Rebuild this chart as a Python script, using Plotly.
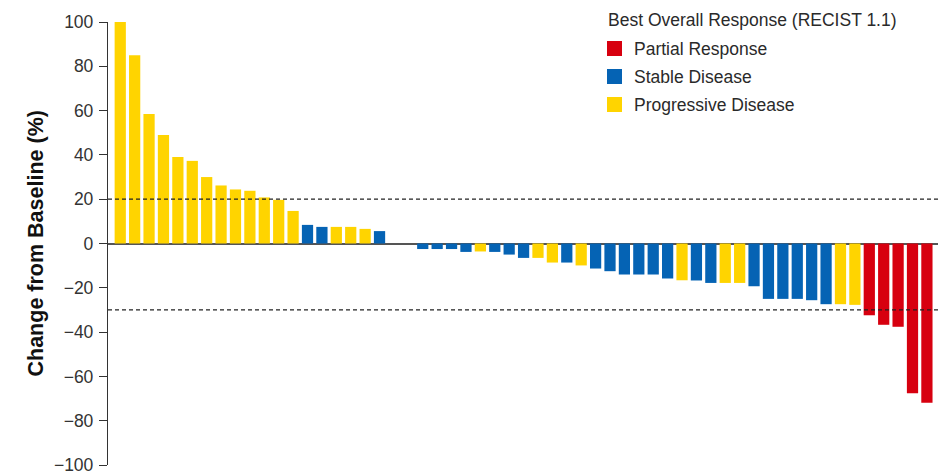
import plotly.graph_objects as go

# Best percent change in target-lesion size per patient, sorted high to low
change_pct = [
    100, 85, 58.5, 49, 39, 37.3, 30, 26.2, 24.4, 23.8, 20.8, 19.7, 14.7,
    8.4, 7.5, 7.5, 7.5, 6.6, 5.6,
    0, 0,
    -2.5, -2.5, -2.5, -3.8, -3.6, -3.8, -5, -6.5, -6.5, -8.6, -8.6, -9.9,
    -11.3, -12.5, -14, -14, -14, -15.8, -16.6, -16.7, -17.8, -17.8, -17.8,
    -19.3, -25, -25, -25, -25.6, -27.4, -27.4, -27.7,
    -32.4, -36.7, -37.6, -67.6, -71.9,
]
response = (
    ["PD"] * 13
    + ["SD", "SD", "PD", "PD", "PD", "SD"]
    + ["SD", "SD"]
    + ["SD", "SD", "SD", "SD", "PD", "SD", "SD", "SD", "PD", "PD", "SD", "PD"]
    + ["SD", "SD", "SD", "SD", "SD", "SD", "PD", "SD", "SD", "PD", "PD"]
    + ["SD", "SD", "SD", "SD", "SD", "SD", "PD", "PD"]
    + ["PR"] * 5
)
categories = ["PR", "SD", "PD"]
category_names = {"PR": "Partial Response", "SD": "Stable Disease", "PD": "Progressive Disease"}
category_colors = {"PR": "#D7000F", "SD": "#0563B4", "PD": "#FFD400"}
legend_title = "Best Overall Response (RECIST 1.1)"
y_title = "Change from Baseline (%)"
y_ticks = [100, 80, 60, 40, 20, 0, -20, -40, -60, -80, -100]
threshold_lines = [20, -30]

W, H = 938, 474
M_L, M_R, M_T, M_B = 108, 0, 22, 9
PLOT_W, PLOT_H = W - M_L - M_R, H - M_T - M_B


def px_x(px):
    """Pixel column -> paper x."""
    return (px - M_L) / PLOT_W


def px_y(py):
    """Pixel row (from top) -> paper y."""
    return 1 - (py - M_T) / PLOT_H


patients = list(range(len(change_pct)))
font_family = "Liberation Sans, Arial, Helvetica, sans-serif"

fig = go.Figure()
for cat in categories:
    xs = [p for p, r in zip(patients, response) if r == cat]
    ys = [v for v, r in zip(change_pct, response) if r == cat]
    fig.add_trace(go.Bar(
        x=xs, y=ys, name=category_names[cat], showlegend=False,
        marker=dict(color=category_colors[cat], line=dict(width=0)),
    ))

for yv in threshold_lines:
    fig.add_shape(type="line", xref="paper", x0=0, x1=1, y0=yv, y1=yv,
                  line=dict(color="#222222", width=1.3, dash="4px,3px"),
                  layer="above")

# Vertical axis title, placed left of the tick labels
fig.add_annotation(text="<b>" + y_title + "</b>", xref="paper", yref="paper",
                   x=px_x(35), y=0.5, xanchor="center", yanchor="middle",
                   textangle=-90, showarrow=False,
                   font=dict(size=21.5, color="#111111"))

# Key: title plus a coloured square and label per response category
LEG_X, LEG_TITLE_Y, LEG_ROW0_Y, LEG_ROW_STEP, SQ = 606, 20.5, 48.5, 28, 15
fig.add_annotation(text=legend_title, xref="paper", yref="paper",
                   x=px_x(LEG_X), y=px_y(LEG_TITLE_Y), xanchor="left", yanchor="middle",
                   showarrow=False, font=dict(size=17.5, color="#2a2a2a"))
for i, cat in enumerate(categories):
    cy = LEG_ROW0_Y + i * LEG_ROW_STEP
    fig.add_shape(type="rect", xref="paper", yref="paper",
                  x0=px_x(LEG_X + 1), x1=px_x(LEG_X + 1 + SQ),
                  y0=px_y(cy - SQ / 2), y1=px_y(cy + SQ / 2),
                  fillcolor=category_colors[cat], line=dict(width=0))
    fig.add_annotation(text=category_names[cat], xref="paper", yref="paper",
                       x=px_x(LEG_X + SQ + 11), y=px_y(cy), xanchor="left", yanchor="middle",
                       showarrow=False, font=dict(size=17.5, color="#2a2a2a"))

fig.update_layout(
    width=W, height=H,
    margin=dict(l=M_L, r=M_R, t=M_T, b=M_B),
    paper_bgcolor="white", plot_bgcolor="white",
    barmode="overlay", bargap=0.22,
    font=dict(family=font_family, size=17.5, color="#2a2a2a"),
    showlegend=False,
    xaxis=dict(range=[-0.85, 56.77], showticklabels=False, ticks="",
               showgrid=False, zeroline=False, showline=False),
    yaxis=dict(
        range=[-100, 100], tickvals=y_ticks,
        ticktext=[str(t).replace("-", "\u2212") for t in y_ticks],
        ticks="outside", ticklen=8, tickwidth=1.3, tickcolor="#333333",
        showline=True, linecolor="#333333", linewidth=1.3,
        showgrid=False, zeroline=True, zerolinecolor="#555555", zerolinewidth=1.8,
        tickfont=dict(size=17.5, color="#333333"),
        ticklabelstandoff=2,
        ticklabeloverflow="allow", automargin=False,
    ),
)

fig.write_html("out.html")
